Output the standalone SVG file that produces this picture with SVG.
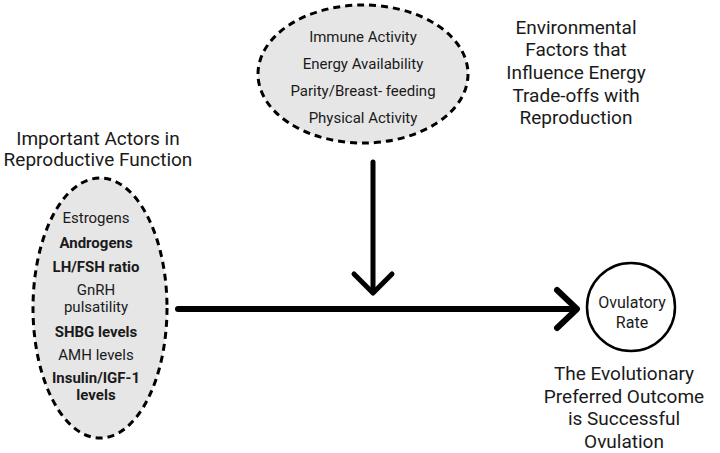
<svg xmlns="http://www.w3.org/2000/svg" width="720" height="453" viewBox="0 0 720 453">
<style>
text{font-family:Roboto,"Liberation Sans",sans-serif;fill:#1a1a1a;text-anchor:middle}
.big{font-size:19px}
.sm{font-size:15px}
.b{font-weight:bold}
.ov{font-size:16px}
.dash{fill:#e6e6e6;stroke:#000;stroke-width:3;stroke-dasharray:7 5}
.conn{fill:none;stroke:#000;stroke-width:6;stroke-linecap:round;stroke-linejoin:round}
</style>
<rect width="720" height="453" fill="#fff"/>
<g id="env">
<ellipse class="dash" cx="363" cy="74" rx="105" ry="69"/>
<text class="sm" x="363" y="42">Immune Activity</text>
<text class="sm" x="363" y="69">Energy Availability</text>
<text class="sm" x="363" y="96">Parity/Breast- feeding</text>
<text class="sm" x="363" y="123">Physical Activity</text>
</g>
<g id="env-label">
<text class="big" x="576" y="34">Environmental</text>
<text class="big" x="576" y="56">Factors that</text>
<text class="big" x="576" y="79">Influence Energy</text>
<text class="big" x="576" y="102">Trade-offs with</text>
<text class="big" x="576" y="124">Reproduction</text>
</g>
<g id="actors-label">
<text class="big" x="98" y="145">Important Actors in</text>
<text class="big" x="98" y="166">Reproductive Function</text>
</g>
<g id="actors">
<ellipse class="dash" cx="100" cy="308" rx="67" ry="130"/>
<text class="sm" x="96" y="223">Estrogens</text>
<text class="sm b" x="96" y="248">Androgens</text>
<text class="sm b" x="96" y="272">LH/FSH ratio</text>
<text class="sm" x="96" y="295">GnRH</text>
<text class="sm" x="96" y="312">pulsatility</text>
<text class="sm b" x="96" y="337">SHBG levels</text>
<text class="sm" x="96" y="360">AMH levels</text>
<text class="sm b" x="96" y="383">Insulin/IGF-1</text>
<text class="sm b" x="96" y="400">levels</text>
</g>
<g id="ovulatory">
<circle cx="631" cy="307" r="44" fill="#fff" stroke="#000" stroke-width="2.5"/>
<text class="ov" x="632" y="308">Ovulatory</text>
<text class="ov" x="632" y="328">Rate</text>
</g>
<g id="outcome-label">
<text class="big" x="624" y="380">The Evolutionary</text>
<text class="big" x="624" y="403">Preferred Outcome</text>
<text class="big" x="624" y="425">is Successful</text>
<text class="big" x="624" y="448">Ovulation</text>
</g>
<g id="connectors">
<path class="conn" d="M178 309 H576"/>
<path class="conn" d="M557 290 L577 309 L557 328"/>
<path class="conn" d="M373 162 V292" style="stroke-width:5"/>
<path class="conn" d="M354 274 L373 293 L392 274" style="stroke-width:5"/>
</g>
</svg>
